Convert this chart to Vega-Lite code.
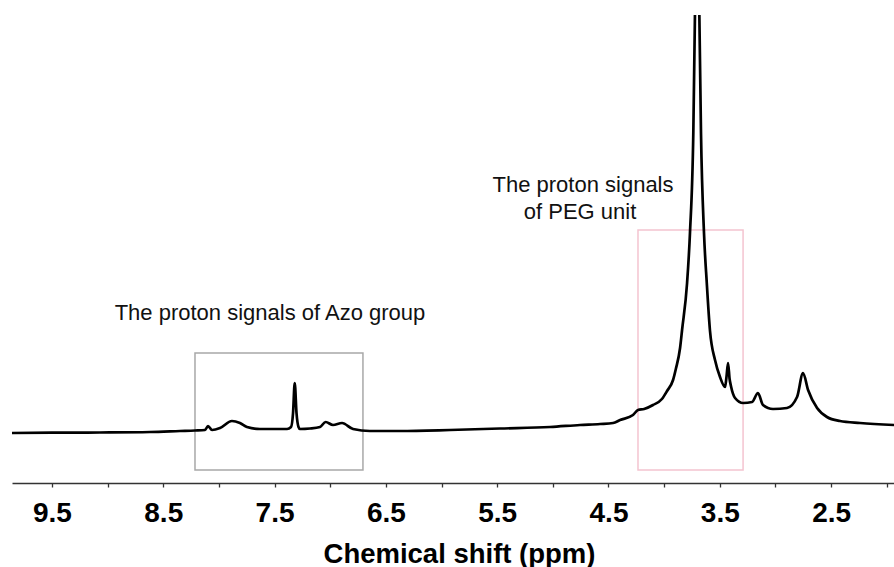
{
  "$schema": "https://vega.github.io/schema/vega-lite/v6.json",
  "width": 882,
  "height": 468,
  "autosize": {"type": "none"},
  "padding": {"left": 12, "top": 15, "right": 0, "bottom": 84},
  "background": "white",
  "view": {"stroke": null},
  "datasets": {
    "spectrum": [
      {"ppm": 9.859, "i": 50}, {"ppm": 9.5, "i": 50.3}, {"ppm": 9.069, "i": 50.5}, {"ppm": 8.619, "i": 51},
      {"ppm": 8.35, "i": 52}, {"ppm": 8.215, "i": 52.5}, {"ppm": 8.125, "i": 53}, {"ppm": 8.098, "i": 57},
      {"ppm": 8.062, "i": 53}, {"ppm": 7.99, "i": 55}, {"ppm": 7.883, "i": 62}, {"ppm": 7.811, "i": 60},
      {"ppm": 7.748, "i": 56}, {"ppm": 7.631, "i": 54}, {"ppm": 7.496, "i": 54}, {"ppm": 7.388, "i": 54},
      {"ppm": 7.352, "i": 56}, {"ppm": 7.334, "i": 70}, {"ppm": 7.319, "i": 100}, {"ppm": 7.303, "i": 70},
      {"ppm": 7.285, "i": 56}, {"ppm": 7.272, "i": 54}, {"ppm": 7.182, "i": 54.5}, {"ppm": 7.092, "i": 56},
      {"ppm": 7.041, "i": 61}, {"ppm": 6.975, "i": 58}, {"ppm": 6.894, "i": 60}, {"ppm": 6.795, "i": 54},
      {"ppm": 6.643, "i": 52}, {"ppm": 6.373, "i": 52}, {"ppm": 5.924, "i": 53}, {"ppm": 5.475, "i": 54.5},
      {"ppm": 5.025, "i": 56}, {"ppm": 4.756, "i": 58}, {"ppm": 4.576, "i": 59}, {"ppm": 4.459, "i": 60},
      {"ppm": 4.396, "i": 63}, {"ppm": 4.28, "i": 68}, {"ppm": 4.235, "i": 73}, {"ppm": 4.18, "i": 74},
      {"ppm": 4.1, "i": 78}, {"ppm": 4.02, "i": 84}, {"ppm": 3.974, "i": 92}, {"ppm": 3.92, "i": 103},
      {"ppm": 3.895, "i": 114}, {"ppm": 3.857, "i": 135}, {"ppm": 3.839, "i": 153}, {"ppm": 3.794, "i": 200},
      {"ppm": 3.768, "i": 250}, {"ppm": 3.738, "i": 350}, {"ppm": 3.723, "i": 470}, {"ppm": 3.705, "i": 700},
      {"ppm": 3.684, "i": 470}, {"ppm": 3.669, "i": 350}, {"ppm": 3.642, "i": 250}, {"ppm": 3.617, "i": 200},
      {"ppm": 3.588, "i": 152}, {"ppm": 3.543, "i": 123}, {"ppm": 3.498, "i": 106}, {"ppm": 3.453, "i": 96},
      {"ppm": 3.44, "i": 106}, {"ppm": 3.426, "i": 120}, {"ppm": 3.412, "i": 104}, {"ppm": 3.4, "i": 97},
      {"ppm": 3.363, "i": 85}, {"ppm": 3.291, "i": 80}, {"ppm": 3.21, "i": 81}, {"ppm": 3.157, "i": 90},
      {"ppm": 3.112, "i": 78}, {"ppm": 3.022, "i": 74}, {"ppm": 2.896, "i": 75}, {"ppm": 2.806, "i": 86},
      {"ppm": 2.752, "i": 110}, {"ppm": 2.707, "i": 93}, {"ppm": 2.626, "i": 75}, {"ppm": 2.537, "i": 66},
      {"ppm": 2.42, "i": 62}, {"ppm": 2.24, "i": 60}, {"ppm": 1.935, "i": 58}
    ],
    "boxes": [
      {"group": "Azo", "x1": 8.215, "x2": 6.706, "y1": 13, "y2": 130},
      {"group": "PEG", "x1": 4.235, "x2": 3.291, "y1": 13, "y2": 253}
    ],
    "notes": [
      {"text": "The proton signals of Azo group", "ppm": 7.541, "i": 170},
      {"text": "The proton signals", "ppm": 4.729, "i": 298},
      {"text": "of PEG unit", "ppm": 4.756, "i": 271}
    ]
  },
  "layer": [
    {
      "data": {"name": "boxes"},
      "mark": {"type": "rect", "fill": null, "strokeWidth": 1.5},
      "encoding": {
        "x": {"field": "x1", "type": "quantitative", "scale": {"domain": [1.935, 9.859], "reverse": true, "nice": false, "zero": false}},
        "x2": {"field": "x2"},
        "y": {"field": "y1", "type": "quantitative", "scale": {"domain": [0, 468], "nice": false, "zero": false}, "axis": null},
        "y2": {"field": "y2"},
        "stroke": {"field": "group", "type": "nominal", "scale": {"domain": ["Azo", "PEG"], "range": ["#a8a8a8", "#f4c4d0"]}, "legend": null}
      }
    },
    {
      "data": {"name": "spectrum"},
      "mark": {"type": "line", "color": "#000000", "strokeWidth": 2.7, "interpolate": "monotone", "clip": true},
      "encoding": {
        "x": {
          "field": "ppm", "type": "quantitative",
          "scale": {"domain": [1.935, 9.859], "reverse": true, "nice": false, "zero": false},
          "axis": {
            "title": "Chemical shift (ppm)",
            "values": [9.75, 9.5, 9.25, 9.0, 8.75, 8.5, 8.25, 8.0, 7.75, 7.5, 7.25, 7.0, 6.75, 6.5, 6.25, 6.0, 5.75, 5.5, 5.25, 5.0, 4.75, 4.5, 4.25, 4.0, 3.75, 3.5, 3.25, 3.0, 2.75, 2.5, 2.25, 2.0],
            "labelExpr": "datum.value % 1 == 0.5 ? format(datum.value, '.1f') : ''",
            "labelOverlap": false,
            "labelFlush": false,
            "labelFont": "Liberation Sans",
            "labelFontWeight": "bold",
            "labelFontSize": 28,
            "labelColor": "#000000",
            "labelPadding": 12,
            "tickSize": 4,
            "tickColor": "#333333",
            "tickWidth": 1.3,
            "domainColor": "#333333",
            "domainWidth": 1.5,
            "grid": false,
            "titleFont": "Liberation Sans",
            "titleFontWeight": "bold",
            "titleFontSize": 27.5,
            "titleColor": "#000000",
            "titlePadding": 13,
            "titleX": 447
          }
        },
        "y": {"field": "i", "type": "quantitative", "scale": {"domain": [0, 468], "nice": false, "zero": false}, "axis": null}
      }
    },
    {
      "data": {"name": "notes"},
      "mark": {"type": "text", "font": "Liberation Sans", "fontSize": 22, "color": "#111111", "align": "center", "baseline": "middle"},
      "encoding": {
        "x": {"field": "ppm", "type": "quantitative", "scale": {"domain": [1.935, 9.859], "reverse": true, "nice": false, "zero": false}},
        "y": {"field": "i", "type": "quantitative", "scale": {"domain": [0, 468], "nice": false, "zero": false}},
        "text": {"field": "text"}
      }
    }
  ]
}
